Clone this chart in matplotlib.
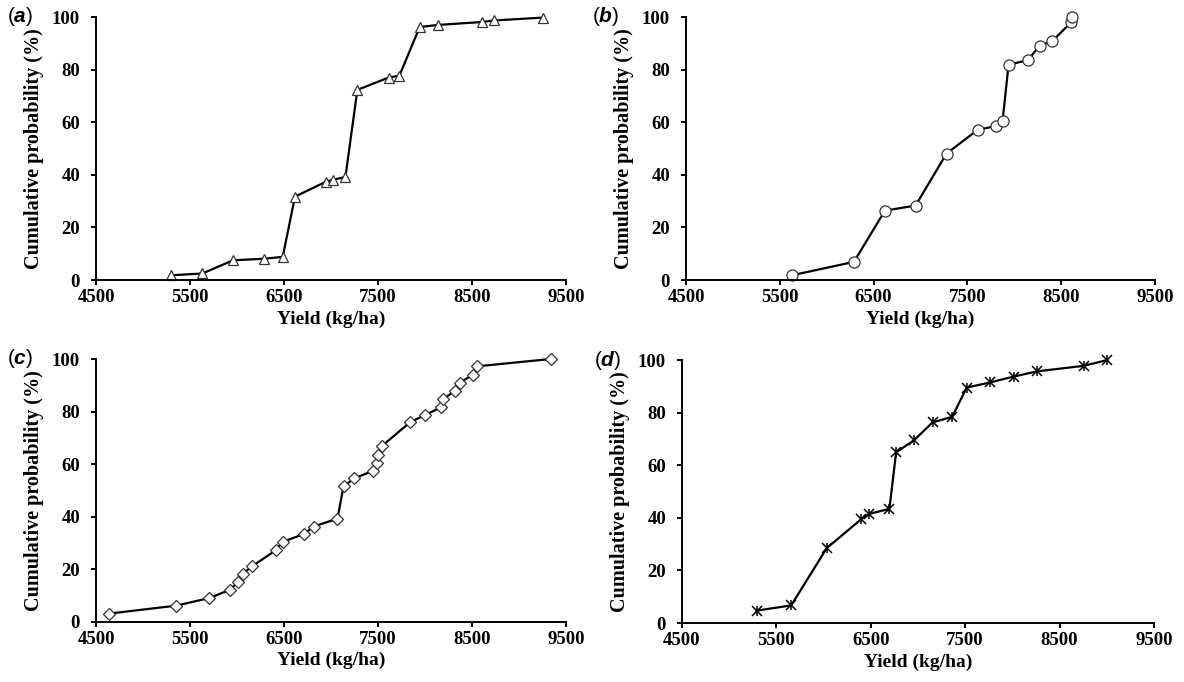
import matplotlib
matplotlib.use('Agg')
import matplotlib.pyplot as plt

plt.rcParams['font.family'] = 'Liberation Serif'
plt.rcParams['font.weight'] = 'bold'
plt.rcParams['mathtext.fontset'] = 'custom'
plt.rcParams['mathtext.it'] = 'Liberation Sans:italic'
plt.rcParams['mathtext.rm'] = 'Liberation Sans'

# panel (a)
yield_a = [5302, 5632, 5957, 6287, 6486, 6616, 6946, 7019, 7153, 7280, 7613, 7727,
           7943, 8135, 8603, 8733, 9254]
prob_a = [1.8, 2.5, 7.5, 8.1, 8.8, 31.7, 37.4, 38.1, 39.2, 72.3, 77.0, 77.7,
          96.2, 97.0, 98.1, 98.7, 99.8]

# panel (b)
yield_b = [5629, 6290, 6621, 6947, 7278, 7609, 7810, 7875, 7939, 8145, 8270, 8407,
           8605, 8613]
prob_b = [1.8, 6.9, 26.4, 28.3, 48.1, 57.1, 58.6, 60.5, 81.9, 83.6, 89.1, 90.9,
          98.0, 100.0]

# panel (c)
yield_c = [4642, 5351, 5705, 5921, 6010, 6059, 6161, 6413, 6486, 6710, 6816, 7068,
           7133, 7247, 7447, 7488, 7504, 7541, 7842, 8000, 8167, 8196, 8318, 8367,
           8505, 8550, 9335]
prob_c = [3.2, 6.2, 9.1, 12.2, 15.1, 18.3, 21.2, 27.3, 30.5, 33.4, 36.3, 39.3,
          51.6, 54.6, 57.5, 60.5, 63.5, 66.9, 76.0, 78.7, 81.6, 84.8, 87.9, 90.9,
          94.0, 97.2, 100.0]

# panel (d)
yield_d = [5291, 5657, 6034, 6400, 6484, 6697, 6769, 6962, 7155, 7363, 7516, 7765,
           8014, 8263, 8757, 9006]
prob_d = [4.7, 6.7, 28.5, 39.5, 41.5, 43.4, 64.9, 69.6, 76.3, 78.4, 89.5, 91.5,
          93.7, 95.7, 97.8, 100.0]

xticks = [4500, 5500, 6500, 7500, 8500, 9500]
yticks = [0, 20, 40, 60, 80, 100]

panels = [
    ('a', yield_a, prob_a, '^', [0.0811, 0.5894, 0.3970, 0.3856], (7, 17)),
    ('b', yield_b, prob_b, 'o', [0.5794, 0.5894, 0.3961, 0.3856], (592, 17)),
    ('c', yield_c, prob_c, 'D', [0.0811, 0.0880, 0.3970, 0.3856], (7, 359)),
    ('d', yield_d, prob_d, '*', [0.5760, 0.0865, 0.3986, 0.3856], (594, 360)),
]

fig = plt.figure(figsize=(11.84, 6.82), dpi=100)

for letter, xs, ys, mk, pos, lab in panels:
    ax = fig.add_axes(pos)
    if mk == '*':
        ax.plot(xs, ys, color='black', lw=1.6, marker='x', ms=7, mew=1.1, clip_on=False)
        ax.plot(xs, ys, ls='none', marker='|', ms=7, mew=1.1, color='black', clip_on=False)
    else:
        msize = {'^': 7.5, 'o': 8, 'D': 6}[mk]
        ax.plot(xs, ys, color='black', lw=1.6, marker=mk, ms=msize,
                mfc='white', mec='#333333', mew=0.9, clip_on=False)
    ax.set_xlim(4500, 9500)
    ax.set_ylim(0, 100)
    ax.set_xticks(xticks)
    ax.set_yticks(yticks)
    ax.spines['top'].set_visible(False)
    ax.spines['right'].set_visible(False)
    for s in ['left', 'bottom']:
        ax.spines[s].set_linewidth(1.4)
    ax.tick_params(direction='out', length=3.5, width=1.4, labelsize=13.5)
    ax.tick_params(axis='x', pad=3)
    ax.tick_params(axis='y', pad=8)
    ax.set_xlabel('Yield (kg/ha)', fontsize=14, fontweight='bold', labelpad=3)
    ax.set_ylabel('Cumulative probability (%)', fontsize=14.5, fontweight='bold', labelpad=6)
    fig.text(lab[0] / 1184, 1 - lab[1] / 682, '($\\mathit{' + letter + '}$)',
             fontsize=15, fontweight='normal', va='center', ha='left',
             family='Liberation Sans')

fig.savefig('out.png', dpi=100)
